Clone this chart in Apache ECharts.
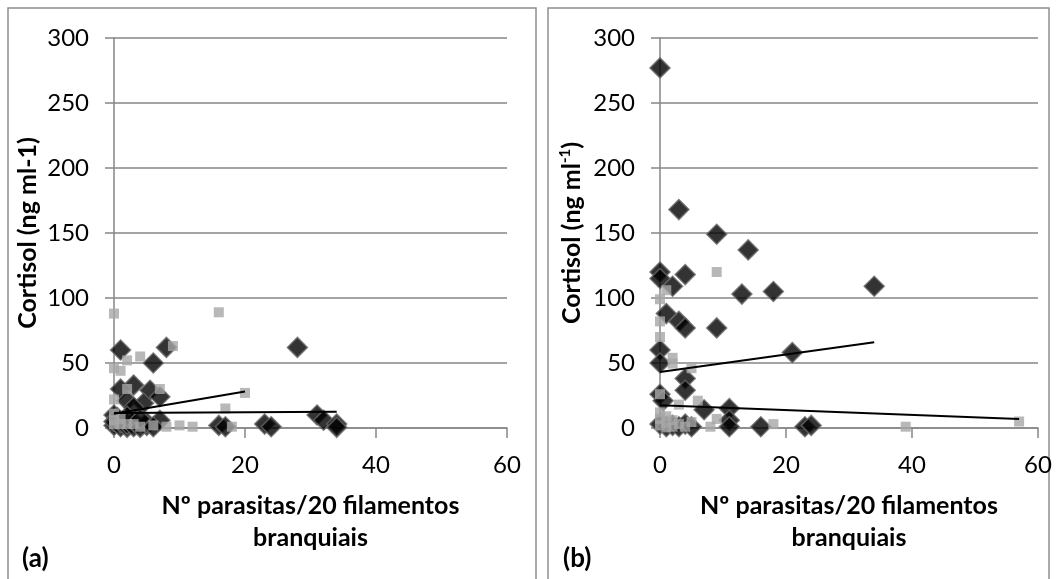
<!DOCTYPE html>
<html>
<head>
<meta charset="utf-8">
<script src="https://cdn.jsdelivr.net/npm/echarts@6/dist/echarts.min.js"></script>
<style>
  html, body { margin: 0; padding: 0; background: #fff; }
  #chart { width: 1057px; height: 579px; }
</style>
</head>
<body>
<div id="chart"></div>
<script>
// Axis ticks shared by both panels
const xTicks = [0, 20, 40, 60];
const yTicks = [0, 50, 100, 150, 200, 250, 300];

// Panel (a): parasites per 20 gill filaments vs cortisol
const aDiamonds = [
  [1, 60], [8, 62], [6, 50], [28, 62], [3, 33], [1, 30], [5.5, 29], [7, 24],
  [2, 21], [4.5, 19], [3, 16], [0, 10], [7, 6], [5, 2], [16, 2], [17, 1],
  [23, 3], [24, 1], [31, 10], [32, 6], [34, 3], [34, 0.5],
  [0, 2], [0, 5], [1, 1], [1, 4], [2, 0.5], [2, 3], [3, 1], [3, 5],
  [4, 0.5], [5, 4], [6, 1], [0.5, 8], [2, 9], [4, 7]
];
const aSquares = [
  [0, 88], [16, 89], [9, 63], [4, 55], [2, 52], [0, 46], [1, 44], [2, 30],
  [7, 30], [0, 22], [20, 27], [17, 15], [18, 1], [8, 1], [10, 2], [12, 1],
  [0, 11], [0, 3], [1, 3], [2, 3], [3, 3], [0, 6], [1, 7], [4, 1], [6, 2]
];
const aDiamondTrend = [[0, 11.5], [34, 12.5]];
const aSquareTrend = [[0, 11], [20, 28]];

// Panel (b)
const bDiamonds = [
  [0, 277], [3, 168], [9, 149], [14, 137], [0, 120], [0, 115], [4, 118], [2, 109],
  [13, 103], [18, 105], [34, 109], [1, 88], [3, 82], [4, 77], [9, 77], [0, 60],
  [0, 50], [21, 58], [4, 38], [4, 29], [0, 26], [0.5, 21], [7, 14], [11, 15],
  [11, 6], [0, 3], [1, 1], [2, 2], [3, 1], [4, 3], [5, 1], [11, 1], [16, 1],
  [23, 1], [24, 2]
];
const bSquares = [
  [9, 120], [1, 106], [0, 99], [0, 82], [0, 70], [2, 54], [2, 49.5], [5, 46],
  [0, 26], [6, 21], [3, 18], [0, 12], [9, 7], [8, 1], [18, 3], [5, 4.6],
  [39, 1], [57, 5], [0, 2], [1, 4], [2, 1], [3, 3], [0, 7], [1, 9], [4, 1],
  [2, 6], [1, 0.5]
];
const bDiamondTrend = [[0, 43], [34, 66]];
const bSquareTrend = [[0, 17.5], [57, 7]];

const gridGray = '#868686';
const font = 'Lato, "Open Sans", sans-serif';

function xAxisFor(gridIndex) {
  return {
    type: 'value', gridIndex,
    min: xTicks[0], max: xTicks[xTicks.length - 1], interval: xTicks[1] - xTicks[0],
    name: 'Nº parasitas/20 filamentos\nbranquiais',
    nameLocation: 'middle', nameGap: 62,
    nameTextStyle: { fontSize: 25, fontWeight: 'bold', fontFamily: font, color: '#000', lineHeight: 32 },
    axisLine: { show: true, onZero: false, lineStyle: { color: gridGray, width: 1.5 } },
    axisTick: { show: true, length: 10, lineStyle: { color: gridGray, width: 1.5 } },
    axisLabel: { fontSize: 24, fontFamily: font, color: '#000', margin: 25 },
    splitLine: { show: false }
  };
}

function yAxisFor(gridIndex, name, gap) {
  return {
    type: 'value', gridIndex,
    min: yTicks[0], max: yTicks[yTicks.length - 1], interval: yTicks[1] - yTicks[0],
    name, nameLocation: 'middle', nameGap: gap,
    nameTextStyle: {
      fontSize: 25, fontWeight: 'bold', fontFamily: font, color: '#000', lineHeight: 28,
      rich: { sup: { fontSize: 15, fontWeight: 'bold', fontFamily: font, color: '#000', verticalAlign: 'top', lineHeight: 28 } }
    },
    axisLine: { show: true, lineStyle: { color: gridGray, width: 1.5 } },
    axisTick: { show: true, length: 9, lineStyle: { color: gridGray, width: 1.5 } },
    axisLabel: { fontSize: 24, fontFamily: font, color: '#000', margin: 25 },
    splitLine: { show: true, lineStyle: { color: gridGray, width: 1.5 } }
  };
}

function diamondSeries(data, idx) {
  return {
    type: 'scatter', xAxisIndex: idx, yAxisIndex: idx, data,
    symbol: 'diamond', symbolSize: 20,
    itemStyle: { color: '#000', borderColor: '#666666', borderWidth: 1.5 },
    z: 2, silent: true
  };
}
function squareSeries(data, idx) {
  return {
    type: 'scatter', xAxisIndex: idx, yAxisIndex: idx, data,
    symbol: 'rect', symbolSize: 10,
    itemStyle: { color: '#a6a6a6' },
    z: 3, silent: true
  };
}
function trendSeries(data, idx) {
  return {
    type: 'line', xAxisIndex: idx, yAxisIndex: idx, data,
    symbol: 'none', lineStyle: { color: '#000', width: 2 },
    z: 4, silent: true
  };
}

const chart = echarts.init(document.getElementById('chart'), null, { renderer: 'canvas' });
chart.setOption({
  animation: false,
  backgroundColor: '#fff',
  grid: [
    { left: 114, right: 550, top: 38, bottom: 151 },
    { left: 660, right: 19, top: 38, bottom: 151 }
  ],
  xAxis: [xAxisFor(0), xAxisFor(1)],
  yAxis: [
    yAxisFor(0, 'Cortisol (ng ml-1)', 72),
    yAxisFor(1, 'Cortisol (ng ml{sup|-1})', 74)
  ],
  graphic: [
    { type: 'rect', shape: { x: 8, y: 8, width: 528, height: 600 },
      style: { fill: 'none', stroke: '#8e8e8e', lineWidth: 1.5 }, silent: true },
    { type: 'rect', shape: { x: 548, y: 8, width: 501, height: 600 },
      style: { fill: 'none', stroke: '#8e8e8e', lineWidth: 1.5 }, silent: true },
    { type: 'text', left: 22, top: 546,
      style: { text: '(a)', fontSize: 26, fontWeight: 'bold', fontFamily: font, fill: '#000' } },
    { type: 'text', left: 563, top: 546,
      style: { text: '(b)', fontSize: 26, fontWeight: 'bold', fontFamily: font, fill: '#000' } }
  ],
  series: [
    diamondSeries(aDiamonds, 0), squareSeries(aSquares, 0),
    trendSeries(aDiamondTrend, 0), trendSeries(aSquareTrend, 0),
    diamondSeries(bDiamonds, 1), squareSeries(bSquares, 1),
    trendSeries(bDiamondTrend, 1), trendSeries(bSquareTrend, 1)
  ]
});
</script>
</body>
</html>
